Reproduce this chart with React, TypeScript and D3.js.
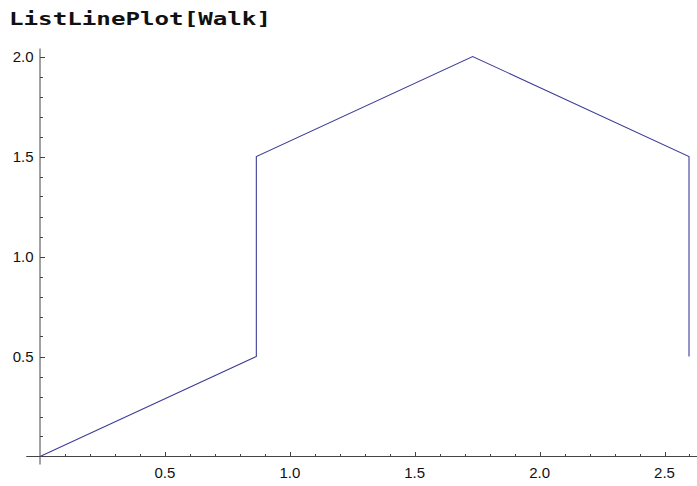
import React, { useEffect, useRef } from "react";
import * as d3 from "d3";

// walk points (hexagon-ish walk)
const walkX = [0, 0.866, 0.866, 1.732, 2.598, 2.598];
const walkY = [0, 0.5, 1.5, 2.0, 1.5, 0.5];
const xTicks = [0.5, 1.0, 1.5, 2.0, 2.5];
const yTicks = [0.5, 1.0, 1.5, 2.0];
const title = "ListLinePlot[Walk]";

export default function App() {
  const ref = useRef<SVGSVGElement>(null);

  useEffect(() => {
    const svg = d3.select(ref.current);
    svg.selectAll("*").remove();

    const x = d3.scaleLinear().domain([0, 2.598]).range([40, 689]);
    const y = d3.scaleLinear().domain([0, 2]).range([456.5, 56.5]);

    svg
      .append("text")
      .attr("x", 9)
      .attr("y", 25)
      .attr("font-family", "'DejaVu Sans Mono', monospace")
      .attr("font-weight", "bold")
      .attr("font-size", 18)
      .attr("textLength", 262)
      .attr("lengthAdjust", "spacingAndGlyphs")
      .attr("fill", "#111")
      .text(title);

    const axisCol = "#444";
    const g = svg.append("g");

    // x axis
    g.append("line")
      .attr("x1", x(-0.055))
      .attr("x2", 697)
      .attr("y1", y(0))
      .attr("y2", y(0))
      .attr("stroke", axisCol);
    const xMinor = d3.range(1, 27).map((i) => i / 10);
    g.selectAll(".xt")
      .data(xMinor)
      .enter()
      .append("line")
      .attr("x1", (d) => Math.round(x(d)) + 0.5)
      .attr("x2", (d) => Math.round(x(d)) + 0.5)
      .attr("y1", y(0))
      .attr("y2", (d) => y(0) - (Math.abs((d * 2) % 1) < 1e-6 ? 4.5 : 2.5))
      .attr("stroke", axisCol);
    g.selectAll(".xl")
      .data(xTicks)
      .enter()
      .append("text")
      .attr("x", (d) => x(d))
      .attr("y", 477.5)
      .attr("text-anchor", "middle")
      .attr("font-family", "'Liberation Sans', Arial, sans-serif")
      .attr("font-size", 15)
      .attr("fill", "#111")
      .text((d) => d.toFixed(1));

    // y axis
    g.append("line")
      .attr("x1", 40)
      .attr("x2", 40)
      .attr("y1", y(2.04))
      .attr("y2", y(-0.04))
      .attr("stroke", axisCol);
    const yMinor = d3.range(1, 21).map((i) => i / 10);
    g.selectAll(".yt")
      .data(yMinor)
      .enter()
      .append("line")
      .attr("x1", 40)
      .attr("x2", (d) => 40 + (Math.abs((d * 2) % 1) < 1e-6 ? 5 : 3))
      .attr("y1", (d) => Math.round(y(d)) + 0.5)
      .attr("y2", (d) => Math.round(y(d)) + 0.5)
      .attr("stroke", axisCol);
    g.selectAll(".yl")
      .data(yTicks)
      .enter()
      .append("text")
      .attr("x", 33.5)
      .attr("y", (d) => y(d) + 5.3)
      .attr("text-anchor", "end")
      .attr("font-family", "'Liberation Sans', Arial, sans-serif")
      .attr("font-size", 15)
      .attr("fill", "#111")
      .text((d) => d.toFixed(1));

    // the walk
    const pts = walkX.map((v, i) => [v, walkY[i]] as [number, number]);
    const line = d3
      .line<[number, number]>()
      .x((d) => x(d[0]))
      .y((d) => y(d[1]));
    svg
      .append("path")
      .datum(pts)
      .attr("d", line)
      .attr("fill", "none")
      .attr("stroke", "#3d3d99")
      .attr("stroke-width", 1.1);
  }, []);

  return (
    <svg
      ref={ref}
      width={697}
      height={486}
      style={{ position: "absolute", left: 0, top: 0, background: "#fff" }}
    />
  );
}
